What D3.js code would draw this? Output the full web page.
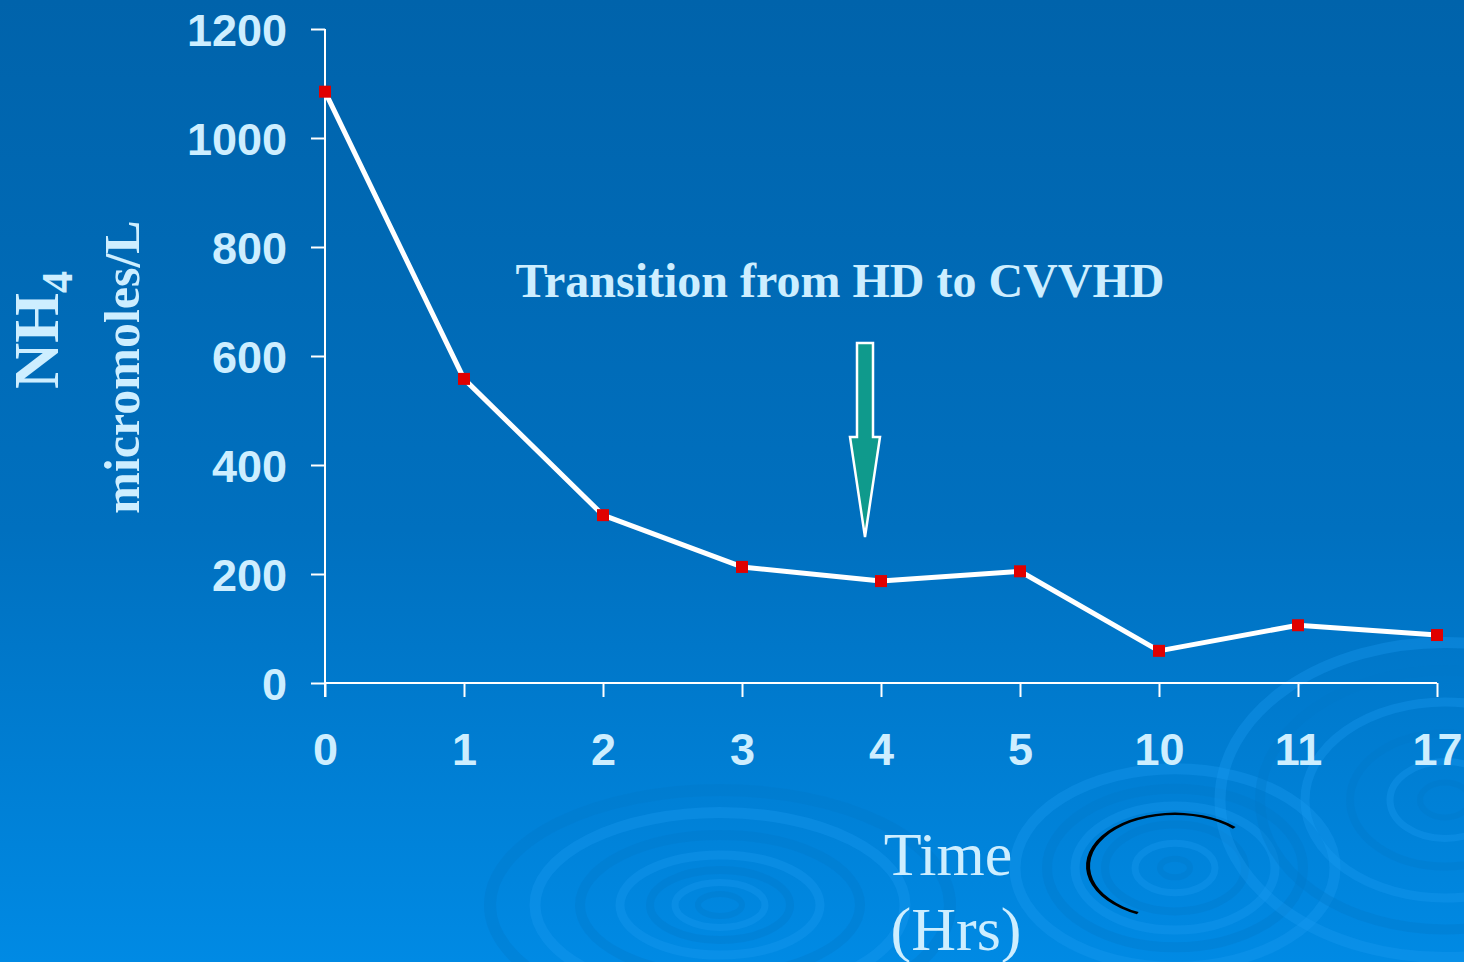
<!DOCTYPE html>
<html>
<head>
<meta charset="utf-8">
<script src="https://cdn.jsdelivr.net/npm/d3@7"></script>
<style>
  body { margin: 0; overflow: hidden; }
</style>
</head>
<body>
<script>
// data
var hours = ["0", "1", "2", "3", "4", "5", "10", "11", "17"];
var nh4 = [1085, 558, 308, 213, 187, 205, 59, 106, 88];
var yTicks = [0, 200, 400, 600, 800, 1000, 1200];

var svgWidth = 1464;
var svgHeight = 962;

var svg = d3.select("body")
  .append("svg")
    .attr("width", svgWidth)
    .attr("height", svgHeight);

// background gradient
var defs = svg.append("defs");
var grad = defs.append("linearGradient")
    .attr("id", "bg")
    .attr("x1", 0).attr("y1", 0).attr("x2", 0).attr("y2", 1);
grad.append("stop").attr("offset", "0%").attr("stop-color", "#0063ab");
grad.append("stop").attr("offset", "55%").attr("stop-color", "#0070bf");
grad.append("stop").attr("offset", "100%").attr("stop-color", "#008ae4");

svg.append("rect")
  .attr("width", svgWidth)
  .attr("height", svgHeight)
  .attr("fill", "url(#bg)");

// ripples in the background
var ripples = [
  {cx: 720, cy: 905, rings: [22, 45, 70, 100, 140, 185, 230], ry: 0.5},
  {cx: 1175, cy: 868, rings: [15, 40, 70, 100, 128, 160], ry: 0.62},
  {cx: 1445, cy: 800, rings: [25, 55, 95, 140, 185, 225], ry: 0.7}
];
ripples.forEach(function(r) {
  svg.append("g")
    .selectAll("ellipse")
    .data(r.rings)
    .enter()
    .append("ellipse")
      .attr("cx", r.cx)
      .attr("cy", r.cy)
      .attr("rx", d => d)
      .attr("ry", d => d * r.ry)
      .attr("fill", "none")
      .attr("stroke", (d, i) => i % 2 ? "#1a9bf0" : "#0077c8")
      .attr("stroke-width", (d, i) => 6 + i)
      .attr("stroke-opacity", 0.35);
});

// stray black outline around the middle ripple
svg.append("path")
  .attr("d", d3.arc()({innerRadius: 85, outerRadius: 89, startAngle: -2.7, endAngle: 0.75}))
  .attr("transform", "translate(1175,866) scale(1,0.6)")
  .attr("fill", "#000")
  .attr("stroke", "none");

var x = d3.scalePoint()
  .domain(hours)
  .range([325, 1437]);

var y = d3.scaleLinear()
  .domain([0, 1200])
  .range([683, 29]);

var lightText = "#cdeeff";

// y axis
var yAxis = svg.append("g")
  .attr("transform", "translate(325,0)")
  .call(d3.axisLeft(y).tickValues(yTicks).tickFormat(d3.format("d")).tickSize(14).tickPadding(24));
yAxis.select(".domain").attr("stroke", "#fff").attr("stroke-width", 2)
  .attr("d", "M0,29V697");
yAxis.selectAll(".tick line").attr("stroke", "#fff").attr("stroke-width", 2);
yAxis.selectAll(".tick text")
  .attr("fill", lightText)
  .attr("font-family", "Liberation Sans, Arial, sans-serif")
  .attr("font-weight", "bold")
  .attr("font-size", 45)
  .attr("dy", "0.36em");

// x axis
var xAxis = svg.append("g")
  .attr("transform", "translate(0,683)")
  .call(d3.axisBottom(x).tickSize(14).tickPadding(36));
xAxis.select(".domain").attr("stroke", "#fff").attr("stroke-width", 2)
  .attr("d", "M325,0H1437");
xAxis.selectAll(".tick line").attr("stroke", "#fff").attr("stroke-width", 2);
xAxis.selectAll(".tick text")
  .attr("fill", lightText)
  .attr("font-family", "Liberation Sans, Arial, sans-serif")
  .attr("font-weight", "bold")
  .attr("font-size", 45);

// the line
var line = d3.line()
  .x((d, i) => x(hours[i]))
  .y(d => y(d));

svg.append("path")
  .datum(nh4)
  .attr("d", line)
  .attr("fill", "none")
  .attr("stroke", "#fff")
  .attr("stroke-width", 5)
  .attr("stroke-linejoin", "round");

svg.append("g")
  .selectAll("rect")
  .data(nh4)
  .enter()
  .append("rect")
    .attr("x", (d, i) => x(hours[i]) - 6)
    .attr("y", d => y(d) - 6)
    .attr("width", 12)
    .attr("height", 12)
    .attr("fill", "#e00000");

// annotation
svg.append("text")
  .attr("x", 840)
  .attr("y", 297)
  .attr("text-anchor", "middle")
  .attr("fill", lightText)
  .attr("font-family", "Liberation Serif, Times New Roman, serif")
  .attr("font-weight", "bold")
  .attr("font-size", 48)
  .text("Transition from HD to CVVHD");

// arrow pointing at hour 4
var ax = x("4") - 16;
svg.append("path")
  .attr("d", "M" + (ax - 8) + ",343 H" + (ax + 8) + " V437 H" + (ax + 15) +
       " L" + ax + ",537 L" + (ax - 15) + ",437 H" + (ax - 8) + " Z")
  .attr("fill", "#0f9a8c")
  .attr("stroke", "#fff")
  .attr("stroke-width", 2.5);

// axis titles
var nh = svg.append("text")
  .attr("transform", "translate(58,330) rotate(-90)")
  .attr("text-anchor", "middle")
  .attr("fill", lightText)
  .attr("font-family", "Liberation Serif, Times New Roman, serif")
  .attr("font-weight", "bold")
  .attr("font-size", 64);
nh.append("tspan").text("NH");
nh.append("tspan").attr("font-size", 44).attr("dy", 14).text("4");

svg.append("text")
  .attr("transform", "translate(139,367) rotate(-90)")
  .attr("text-anchor", "middle")
  .attr("fill", lightText)
  .attr("font-family", "Liberation Serif, Times New Roman, serif")
  .attr("font-weight", "bold")
  .attr("font-size", 50)
  .text("micromoles/L");

svg.append("text")
  .attr("x", 948)
  .attr("y", 875)
  .attr("text-anchor", "middle")
  .attr("fill", lightText)
  .attr("font-family", "Liberation Serif, Times New Roman, serif")
  .attr("font-size", 62)
  .text("Time");

svg.append("text")
  .attr("x", 956)
  .attr("y", 950)
  .attr("text-anchor", "middle")
  .attr("fill", lightText)
  .attr("font-family", "Liberation Serif, Times New Roman, serif")
  .attr("font-size", 62)
  .text("(Hrs)");
</script>
</body>
</html>
